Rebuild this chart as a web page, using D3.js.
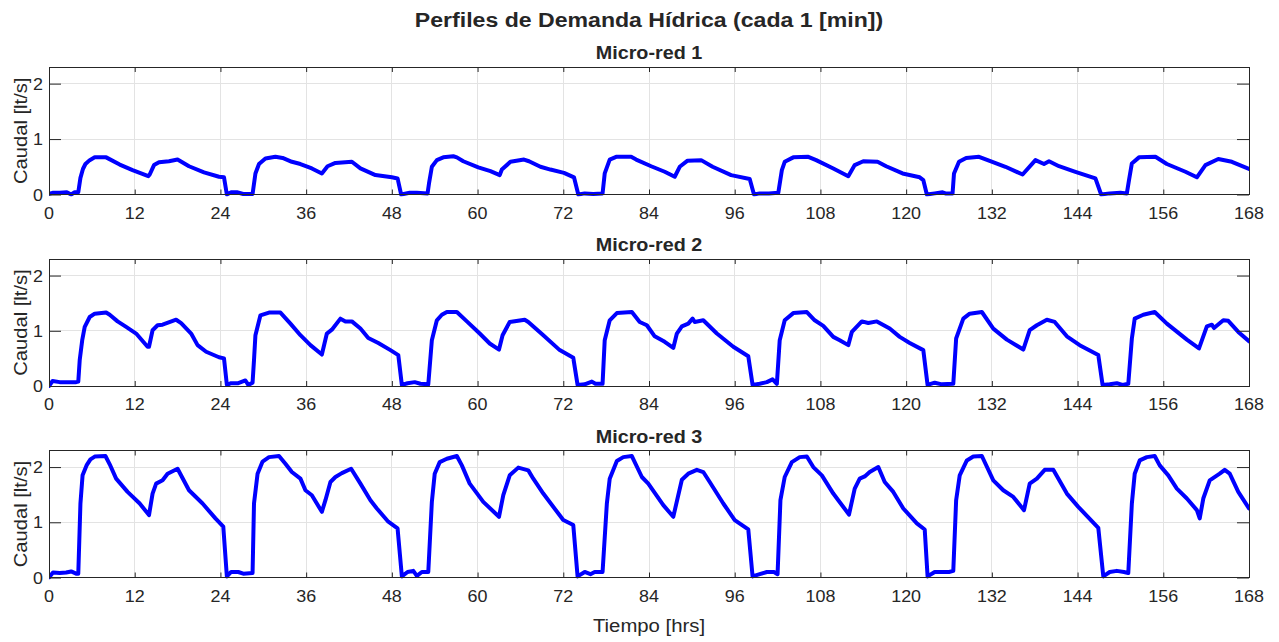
<!DOCTYPE html>
<html>
<head>
<meta charset="utf-8">
<script src="https://cdn.jsdelivr.net/npm/d3@7"></script>
<style>
  html, body { margin: 0; padding: 0; background: #fff; }
  svg { display: block; font-family: "Liberation Sans", Arial, Helvetica, sans-serif; }
</style>
</head>
<body>
<svg id="fig" width="1279" height="642"></svg>
<script>
// Hourly axis ticks and flow axis ticks
const xTicks = [0, 12, 24, 36, 48, 60, 72, 84, 96, 108, 120, 132, 144, 156, 168];
const yTicks = [0, 1, 2];
const titulos = ["Micro-red 1", "Micro-red 2", "Micro-red 3"];

// Demand profile of micro-grid 1: [hour, flow lt/s]
const caudalRed1 = [
  [0,0.01],[0.5,0.03],[1.5,0.03],[2.5,0.04],[3.1,0.0],[3.6,0.04],[4.1,0.04],[4.4,0.3],[4.75,0.46],[5.1,0.55],[5.7,0.62],[6.4,0.67],[8.0,0.67],[9.9,0.54],[11.7,0.44],[13.9,0.33],[14.1,0.36],[14.7,0.53],[15.4,0.58],[16.8,0.60],[18.0,0.63],[19.6,0.51],[21.7,0.40],[23.8,0.32],[24.5,0.31],[24.9,0.0],
  [25.5,0.04],[26.3,0.04],[27.2,0.01],[28.5,0.01],[28.9,0.38],[29.4,0.55],[30.3,0.65],[31.7,0.68],[32.7,0.66],[34,0.59],[35.2,0.55],[36.8,0.47],[38.2,0.38],[39,0.51],[40.1,0.57],[42.4,0.59],[43.6,0.47],[45.7,0.35],[48,0.31],[48.8,0.29],[49.3,0.0],
  [50.5,0.03],[51.5,0.03],[53.0,0.02],[53.2,0.2],[53.6,0.5],[54.3,0.62],[55.2,0.67],[56.6,0.69],[57.1,0.67],[58,0.60],[60.1,0.49],[61.8,0.42],[63.1,0.35],[63.4,0.45],[64.6,0.59],[66.5,0.63],[67.2,0.60],[68.8,0.50],[70.2,0.45],[72.1,0.39],[73.5,0.31],[74.1,0.0],
  [75,0.02],[76.2,0.01],[77.5,0.02],[77.8,0.38],[78.5,0.63],[79.4,0.68],[81.5,0.68],[82.2,0.63],[84.3,0.51],[86.2,0.41],[87.6,0.32],[88.3,0.50],[89.4,0.61],[91.3,0.62],[92.9,0.50],[95.5,0.35],[98.1,0.28],[98.7,0.0],
  [99.5,0.02],[100.8,0.02],[102.1,0.03],[102.6,0.44],[103,0.59],[104.2,0.67],[106.3,0.68],[107.4,0.62],[109.8,0.47],[111.9,0.33],[112.8,0.53],[114,0.60],[116,0.59],[117.2,0.51],[119.5,0.38],[121.9,0.31],[122.4,0.26],[122.9,0.0],
  [124,0.02],[125.1,0.04],[125.5,0.02],[126.5,0.02],[126.7,0.38],[127.4,0.59],[128.4,0.66],[130.2,0.68],[131.6,0.61],[133.9,0.50],[136.3,0.36],[138.1,0.62],[139.3,0.55],[140,0.60],[141.4,0.51],[143.7,0.41],[146.5,0.29],[147.3,0.0],
  [148.5,0.02],[150,0.03],[150.9,0.02],[151.2,0.26],[151.6,0.56],[152.6,0.67],[154.9,0.68],[156.5,0.55],[159.1,0.41],[160.7,0.31],[161.9,0.53],[163.7,0.64],[165.6,0.59],[168,0.46]
];

// Demand profile of micro-grid 2: [hour, flow lt/s]
const caudalRed2 = [
  [0,0.0],[0.5,0.09],[1.5,0.07],[3.8,0.07],[4.1,0.08],[4.3,0.47],[4.65,0.83],[5.0,1.07],[5.7,1.25],[6.4,1.31],[8.0,1.33],[8.5,1.29],[9.6,1.17],[10.8,1.07],[12.2,0.95],[13.8,0.71],[14.0,0.71],[14.5,1.01],[15.2,1.10],[15.9,1.11],[17.8,1.20],[18.5,1.14],[19.9,0.95],[20.8,0.74],[22,0.62],[23.8,0.52],[24.5,0.50],[24.9,0.02],
  [25.5,0.05],[26.5,0.05],[27.5,0.1],[27.9,0.02],[28.5,0.06],[28.7,0.47],[28.9,0.92],[29.6,1.28],[30.8,1.33],[32.4,1.33],[33.8,1.13],[35.2,0.92],[36.6,0.74],[38.2,0.57],[38.9,0.95],[39.6,1.02],[40.8,1.22],[41.5,1.17],[42.4,1.17],[43.6,1.04],[44.7,0.87],[46.1,0.78],[47.8,0.65],[48.9,0.56],[49.4,0.02],
  [50.2,0.05],[51.2,0.07],[52,0.04],[53.1,0.03],[53.6,0.83],[54.3,1.19],[55,1.29],[55.7,1.34],[57.1,1.34],[58.5,1.17],[60.3,0.95],[61.7,0.77],[63.0,0.66],[63.5,0.92],[64.5,1.16],[66.6,1.20],[67.1,1.16],[69.2,0.92],[71.5,0.65],[73.4,0.51],[74,0.02],
  [75,0.03],[76,0.08],[76.5,0.04],[77.5,0.04],[77.8,0.83],[78.5,1.19],[79.5,1.32],[81.6,1.34],[82.7,1.16],[83.7,1.10],[84.8,0.90],[86.2,0.80],[87.4,0.69],[87.9,0.95],[88.6,1.08],[89.5,1.13],[90.1,1.22],[90.4,1.16],[91.6,1.19],[93.5,0.95],[95.8,0.71],[97.9,0.54],[98.5,0.02],
  [99.5,0.04],[100.5,0.07],[101.3,0.12],[101.9,0.04],[102.3,0.83],[103,1.19],[104.2,1.32],[106.1,1.34],[107.2,1.19],[108.4,1.09],[109.8,0.89],[110.7,0.83],[111.9,0.74],[112.4,0.98],[113.8,1.17],[114.7,1.14],[115.9,1.17],[117.7,1.04],[119.1,0.89],[120.5,0.78],[122.4,0.65],[123,0.02],
  [124,0.06],[125,0.03],[126.6,0.04],[127,0.86],[128,1.22],[128.9,1.31],[130.6,1.34],[132.2,1.04],[134.1,0.84],[136.4,0.66],[137.3,1.01],[138.3,1.10],[139.7,1.20],[140.8,1.16],[142.5,0.90],[144.3,0.74],[146.9,0.56],[147.5,0.02],
  [148.5,0.03],[149.5,0.05],[150.3,0.02],[151.1,0.04],[151.6,0.86],[152,1.22],[153.2,1.29],[154.8,1.34],[156.5,1.13],[159.3,0.84],[161,0.68],[162.1,1.08],[162.8,1.11],[163.1,1.05],[164.4,1.19],[165.1,1.18],[166.5,0.98],[168,0.81]
];

// Demand profile of micro-grid 3: [hour, flow lt/s]
const caudalRed3 = [
  [0,0.0],[0.56,0.09],[1.5,0.08],[2.4,0.09],[3.1,0.11],[3.8,0.07],[4.1,0.07],[4.4,1.34],[4.7,1.85],[5.3,2.04],[5.8,2.14],[6.4,2.19],[7.9,2.2],[8.5,2.05],[9.4,1.79],[11.0,1.55],[12.7,1.34],[14.0,1.13],[14.5,1.52],[15.0,1.70],[15.9,1.76],[16.6,1.88],[18.0,1.97],[19.6,1.58],[21.5,1.34],[23.3,1.07],[24.4,0.92],[24.9,0.02],
  [25.5,0.1],[26.5,0.1],[27.2,0.07],[28.5,0.08],[28.7,1.34],[29.2,1.88],[29.9,2.1],[30.8,2.18],[32.2,2.2],[33.1,2.06],[34,1.91],[35.2,1.79],[35.9,1.58],[36.8,1.49],[38.2,1.19],[38.7,1.40],[39.4,1.73],[40.1,1.82],[41,1.89],[42.3,1.97],[43.6,1.70],[45,1.40],[45.9,1.25],[47.5,1.01],[48.8,0.89],[49.4,0.02],
  [50.2,0.1],[51,0.12],[51.5,0.03],[52.2,0.1],[53.1,0.1],[53.6,1.37],[54.0,1.88],[54.7,2.09],[55.7,2.15],[57.1,2.2],[57.8,2.03],[58.9,1.70],[60.8,1.37],[63.0,1.10],[63.6,1.49],[64.5,1.85],[65.7,1.99],[67.1,1.94],[67.8,1.79],[69.2,1.52],[72,1.04],[73.4,0.95],[74,0.02],
  [75,0.1],[75.8,0.06],[76.4,0.1],[77.5,0.1],[78.1,1.34],[78.5,1.79],[79.5,2.11],[80.4,2.18],[81.6,2.2],[83,1.82],[83.9,1.70],[86,1.31],[87.4,1.10],[88.6,1.77],[89.5,1.88],[90.7,1.95],[91.6,1.91],[92.5,1.73],[94.4,1.34],[96,1.04],[97.9,0.87],[98.5,0.02],
  [99.5,0.06],[100.5,0.1],[101.5,0.1],[102,0.06],[102.4,1.40],[103,1.82],[104,2.09],[105.1,2.18],[106.1,2.19],[107,2.0],[108.2,1.85],[109.8,1.52],[110.5,1.40],[112,1.14],[112.8,1.61],[113.5,1.79],[114.2,1.83],[114.9,1.91],[116.1,2.0],[117,1.73],[118.2,1.55],[119.6,1.25],[121.5,0.98],[122.6,0.87],[123,0.02],
  [124,0.1],[125,0.1],[126,0.1],[126.6,0.12],[127,1.40],[127.5,1.85],[128.5,2.12],[129.4,2.19],[130.6,2.2],[132.2,1.76],[133.6,1.58],[135,1.46],[136.5,1.22],[137.3,1.70],[138.3,1.79],[139.4,1.95],[140.6,1.95],[142.5,1.52],[144.1,1.28],[146.9,0.9],[147.6,0.02],
  [148.5,0.1],[149.5,0.12],[150.5,0.1],[151.1,0.08],[151.6,1.34],[152,1.88],[152.7,2.12],[153.7,2.18],[154.8,2.2],[155.5,2.03],[156.7,1.85],[157.9,1.61],[159.3,1.43],[160.7,1.22],[161.1,1.07],[161.6,1.43],[162.5,1.76],[163.9,1.88],[164.6,1.95],[165.3,1.88],[166.5,1.55],[168,1.25]
];

const series = [caudalRed1, caudalRed2, caudalRed3];

// Layout
const left = 49, right = 1249;
const panels = [ {top: 67, bottom: 194.5}, {top: 259, bottom: 386}, {top: 450.5, bottom: 577.5} ];
const ink = "#262626";
const gridColor = "#e3e3e3";
const lineColor = "#0000ff";

const svg = d3.select("#fig");

// Text helper: slightly widened glyphs
function label(g, x, y, str, opt) {
  const o = Object.assign({size: 16, weight: "normal", anchor: "middle", sx: 1.12, rotate: 0}, opt || {});
  return g.append("text")
    .attr("transform", `translate(${x},${y})` + (o.rotate ? ` rotate(${o.rotate})` : "") + ` scale(${o.sx},1)`)
    .attr("text-anchor", o.anchor)
    .attr("font-size", o.size)
    .attr("font-weight", o.weight)
    .attr("fill", ink)
    .text(str);
}

const x = d3.scaleLinear().domain([0, 168]).range([left, right]);

// Main title
label(svg, (left + right) / 2, 27, "Perfiles de Demanda Hídrica (cada 1 [min])", {size: 21, weight: "bold", sx: 1.1});

const defs = svg.append("defs");

panels.forEach((p, i) => {
  const y = d3.scaleLinear().domain([0, 2.3]).range([p.bottom, p.top]);
  const g = svg.append("g");

  const clipId = "clip" + i;
  defs.append("clipPath").attr("id", clipId)
    .append("rect").attr("x", left).attr("y", p.top - 2).attr("width", right - left).attr("height", p.bottom - p.top + 4);

  // grid
  g.append("g").selectAll("line").data(xTicks).join("line")
    .attr("x1", d => x(d)).attr("x2", d => x(d)).attr("y1", p.top).attr("y2", p.bottom)
    .attr("stroke", gridColor).attr("stroke-width", 1).attr("shape-rendering", "crispEdges");
  g.append("g").selectAll("line").data(yTicks).join("line")
    .attr("x1", left).attr("x2", right).attr("y1", d => y(d)).attr("y2", d => y(d))
    .attr("stroke", gridColor).attr("stroke-width", 1).attr("shape-rendering", "crispEdges");

  // data line
  const line = d3.line().x(d => x(d[0])).y(d => y(d[1]));
  g.append("path").datum(series[i])
    .attr("clip-path", `url(#${clipId})`)
    .attr("d", line)
    .attr("fill", "none")
    .attr("stroke", lineColor)
    .attr("stroke-width", 4)
    .attr("stroke-linejoin", "round")
    .attr("stroke-linecap", "round");

  // axes with inward ticks
  const styleAxis = sel => {
    sel.select(".domain").remove();
    sel.selectAll(".tick line").attr("stroke", ink).attr("stroke-width", 1);
    sel.selectAll(".tick text").remove();
  };
  g.append("g").attr("transform", `translate(0,${p.bottom})`)
    .call(d3.axisBottom(x).tickValues(xTicks).tickSize(-5)).call(styleAxis);
  g.append("g").attr("transform", `translate(0,${p.top})`)
    .call(d3.axisTop(x).tickValues(xTicks).tickSize(-5)).call(styleAxis);
  g.append("g").attr("transform", `translate(${left},0)`)
    .call(d3.axisLeft(y).tickValues(yTicks).tickSize(-12)).call(styleAxis);
  g.append("g").attr("transform", `translate(${right},0)`)
    .call(d3.axisRight(y).tickValues(yTicks).tickSize(-12)).call(styleAxis);

  // box
  g.append("rect").attr("x", left).attr("y", p.top)
    .attr("width", right - left).attr("height", p.bottom - p.top)
    .attr("fill", "none").attr("stroke", ink).attr("stroke-width", 1).attr("shape-rendering", "crispEdges");

  // tick labels
  xTicks.forEach(t => label(g, x(t), p.bottom + 24, String(t), {size: 16}));
  yTicks.forEach(t => label(g, left - 6, y(t) + 6, String(t), {size: 16, anchor: "end"}));

  // subplot title
  label(g, (left + right) / 2, p.top - 8, titulos[i], {size: 17.5, weight: "bold", sx: 1.13});

  // y label
  label(g, 27, (p.top + p.bottom) / 2, "Caudal [lt/s]", {size: 18, rotate: -90, sx: 1.12});
});

// x label
label(svg, (left + right) / 2, 632, "Tiempo [hrs]", {size: 18, sx: 1.13});
</script>
</body>
</html>
